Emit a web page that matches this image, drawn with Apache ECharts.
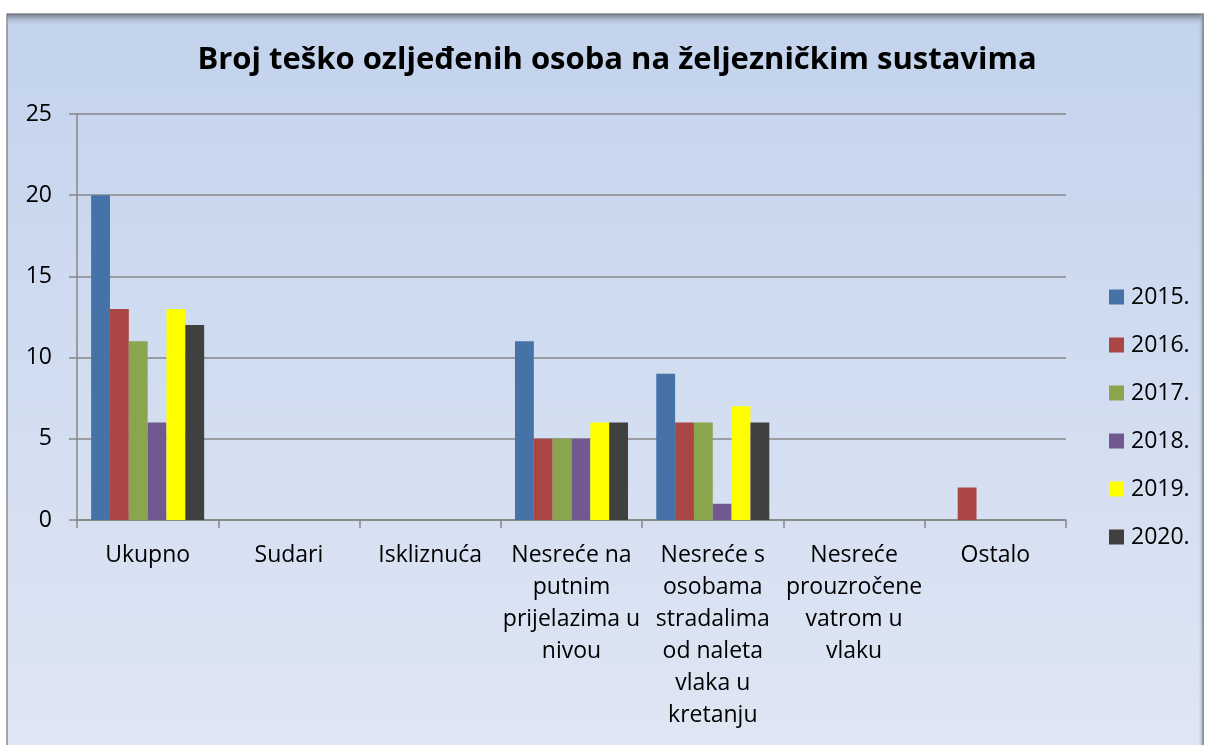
<!DOCTYPE html>
<html>
<head>
<meta charset="utf-8">
<script src="https://cdn.jsdelivr.net/npm/echarts@6/dist/echarts.min.js"></script>
<style>
  html, body { margin: 0; padding: 0; background: #fff; }
  #chart { width: 1207px; height: 745px; }
</style>
</head>
<body>
<div id="chart"></div>
<script>
// podaci
const categories = [
  'Ukupno',
  'Sudari',
  'Iskliznuća',
  'Nesreće na\nputnim\nprijelazima u\nnivou',
  'Nesreće s\nosobama\nstradalima\nod naleta\nvlaka u\nkretanju',
  'Nesreće\nprouzročene\nvatrom u\nvlaku',
  'Ostalo'
];
const years = ['2015.', '2016.', '2017.', '2018.', '2019.', '2020.'];
const v2015 = [20, 0, 0, 11, 9, 0, 0];
const v2016 = [13, 0, 0, 5, 6, 0, 2];
const v2017 = [11, 0, 0, 5, 6, 0, 0];
const v2018 = [6, 0, 0, 5, 1, 0, 0];
const v2019 = [13, 0, 0, 6, 7, 0, 0];
const v2020 = [12, 0, 0, 6, 6, 0, 0];
const yTicks = [0, 5, 10, 15, 20, 25];

const values = [v2015, v2016, v2017, v2018, v2019, v2020];
const colors = ['#4572A7', '#AA4643', '#89A54E', '#71588F', '#FFFF00', '#404040'];
const FONT = 'Open Sans';
const gridColor = '#878787';

const chart = echarts.init(document.getElementById('chart'), null, { renderer: 'canvas' });

chart.setOption({
  animation: false,
  textStyle: { fontFamily: FONT },
  graphic: [
    {
      type: 'rect', z: -10, silent: true,
      shape: { x: 7, y: 14, width: 1196, height: 760 },
      style: {
        fill: {
          type: 'linear', x: 0, y: 0, x2: 0, y2: 1,
          colorStops: [
            { offset: 0, color: '#c3d3ed' },
            { offset: 1, color: '#e0e7f4' }
          ]
        },
        stroke: '#8a8a8a', lineWidth: 1.5
      }
    },
    {
      type: 'rect', z: -9, silent: true,
      shape: { x: 7, y: 14, width: 1196, height: 12 },
      style: {
        fill: {
          type: 'linear', x: 0, y: 0, x2: 0, y2: 1,
          colorStops: [
            { offset: 0, color: 'rgba(110,118,132,0.95)' },
            { offset: 1, color: 'rgba(195,211,237,0)' }
          ]
        }
      }
    },
    {
      type: 'rect', z: -9, silent: true,
      shape: { x: 1198, y: 14, width: 6, height: 760 },
      style: {
        fill: {
          type: 'linear', x: 0, y: 0, x2: 1, y2: 0,
          colorStops: [
            { offset: 0, color: 'rgba(195,211,237,0)' },
            { offset: 1, color: 'rgba(120,128,140,0.8)' }
          ]
        }
      }
    }
  ],
  title: {
    text: 'Broj teško ozljeđenih osoba na željezničkim sustavima',
    left: 612, top: 40, textAlign: 'center',
    textStyle: { fontFamily: FONT, fontSize: 31, fontWeight: 'bold', color: '#000' }
  },
  legend: {
    orient: 'vertical',
    left: 1109, top: 285, padding: 0,
    icon: 'rect',
    itemWidth: 15, itemHeight: 15,
    itemGap: 24,
    textStyle: { fontFamily: FONT, fontSize: 23, lineHeight: 24, color: '#000', padding: [0, 0, 0, 2] },
    data: years
  },
  grid: { left: 77, right: 141, top: 114, bottom: 225, containLabel: false },
  xAxis: {
    type: 'category',
    data: categories,
    axisLine: { lineStyle: { color: gridColor, width: 1.5 } },
    axisTick: { show: true, length: 8, interval: 0, lineStyle: { color: gridColor, width: 1.5 } },
    axisLabel: {
      interval: 0, fontFamily: FONT, fontSize: 23, color: '#000',
      lineHeight: 32, margin: 19, align: 'center', verticalAlign: 'top'
    }
  },
  yAxis: {
    type: 'value',
    min: yTicks[0], max: yTicks[yTicks.length - 1], interval: 5,
    axisLine: { show: true, lineStyle: { color: gridColor, width: 1.5 } },
    axisTick: { show: true, length: 8, lineStyle: { color: gridColor, width: 1.5 } },
    splitLine: { lineStyle: { color: gridColor, width: 1.5 } },
    axisLabel: { fontFamily: FONT, fontSize: 23, color: '#000', margin: 25 }
  },
  series: years.map((y, i) => ({
    name: y,
    type: 'bar',
    data: values[i],
    barGap: '0%',
    barCategoryGap: '20%',
    itemStyle: { color: colors[i] }
  }))
});
</script>
</body>
</html>
